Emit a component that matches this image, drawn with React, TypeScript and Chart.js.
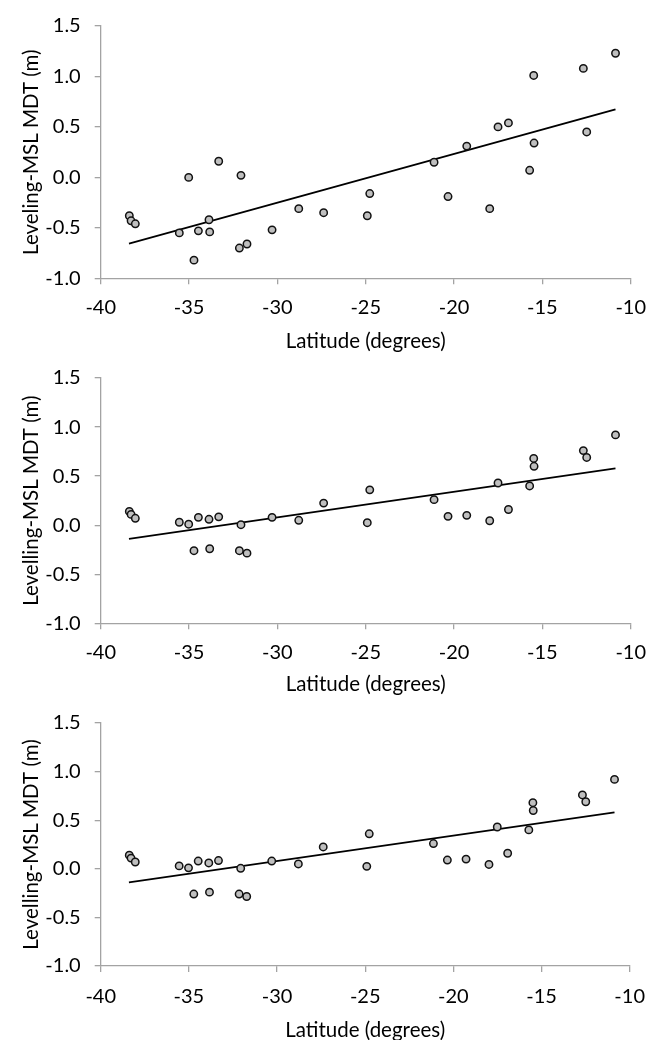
import React, { useEffect, useRef } from "react";
import { Chart, registerables } from "chart.js";

Chart.register(...registerables);

// ---- data ----
const latitudes = [
  -38.38, -38.28, -38.04, -35.55, -35.02, -34.72, -34.47, -33.87, -33.83, -33.32,
  -32.15, -32.06, -31.72, -30.3, -28.79, -27.38, -24.91, -24.77, -21.13, -20.34,
  -19.28, -17.98, -17.51, -16.92, -15.72, -15.49, -15.47, -12.68, -12.49, -10.86,
];

const mdtTop = [
  -0.38, -0.43, -0.46, -0.55, 0.0, -0.82, -0.53, -0.42, -0.54, 0.16,
  -0.7, 0.02, -0.66, -0.52, -0.31, -0.35, -0.38, -0.16, 0.15, -0.19,
  0.31, -0.31, 0.5, 0.54, 0.07, 1.01, 0.34, 1.08, 0.45, 1.23,
];

const mdtMiddle = [
  0.14, 0.11, 0.07, 0.03, 0.01, -0.26, 0.08, 0.06, -0.24, 0.085,
  -0.26, 0.005, -0.285, 0.08, 0.05, 0.225, 0.025, 0.36, 0.26, 0.09,
  0.1, 0.045, 0.43, 0.16, 0.4, 0.68, 0.6, 0.76, 0.69, 0.92,
];

const mdtBottom = [
  0.14, 0.11, 0.07, 0.03, 0.01, -0.26, 0.08, 0.06, -0.24, 0.085,
  -0.26, 0.005, -0.285, 0.08, 0.05, 0.225, 0.025, 0.36, 0.26, 0.09,
  0.1, 0.045, 0.43, 0.16, 0.4, 0.68, 0.6, 0.76, 0.69, 0.92,
];

const trendLatitudes = [-38.4, -10.86];
const trendTop = [-0.656, 0.675];
const trendMiddle = [-0.14, 0.58];
const trendBottom = [-0.14, 0.58];

const xTickValues = [-40, -35, -30, -25, -20, -15, -10];
const yTickValues = [-1.0, -0.5, 0.0, 0.5, 1.0, 1.5];

const xTitle = "Latitude (degrees)";
const yTitles = ["Leveling-MSL MDT (m)", "Levelling-MSL MDT (m)", "Levelling-MSL MDT (m)"];

// ---- layout (page pixels) ----
const PAGE_W = 658;
const PLOT_LEFT = 100.7;
const PLOT_RIGHT = 630.7;
const FONT = "Lato";
const TICK_SIZE = 20;
const TITLE_SIZE = 20.5;
const TICK_LEN = 6;
const AXIS_COLOR = "#a3a3a3";

const panels = [
  { top: 0, bottom: 352, plotTop: 21.7, plotBottom: 278.3, xLabelY: 307.5, titleY: 341.5, values: mdtTop, trend: trendTop, yTitle: yTitles[0] },
  { top: 352, bottom: 697, plotTop: 370.7, plotBottom: 623.3, xLabelY: 653, titleY: 684, values: mdtMiddle, trend: trendMiddle, yTitle: yTitles[1] },
  { top: 697, bottom: 1040, plotTop: 714, plotBottom: 966, xLabelY: 997, titleY: 1030, values: mdtBottom, trend: trendBottom, yTitle: yTitles[2] },
];

type Panel = (typeof panels)[number];

function ScatterPanel({ p }: { p: Panel }) {
  const ref = useRef<HTMLCanvasElement | null>(null);
  const height = p.bottom - p.top;

  useEffect(() => {
    if (!ref.current) return;
    const tickLH = TICK_SIZE * 1.2;
    const xScaleHeight = p.bottom - p.plotBottom;
    const xTickPad = p.xLabelY - p.plotBottom - TICK_LEN - tickLH / 2;
    const titleLH = TITLE_SIZE;
    const xTitlePadBottom = p.bottom - p.titleY - titleLH / 2;

    const chart = new Chart(ref.current, {
      type: "scatter",
      data: {
        datasets: [
          {
            label: "points",
            data: latitudes.map((x, i) => ({ x, y: p.values[i] })),
            backgroundColor: "#bfbfbf",
            borderColor: "#111111",
            borderWidth: 1.5,
            pointRadius: 3.7,
            pointHoverRadius: 3.7,
            order: 1,
          },
          {
            label: "trend",
            data: trendLatitudes.map((x, i) => ({ x, y: p.trend[i] })),
            showLine: true,
            borderColor: "#000000",
            borderWidth: 1.8,
            pointRadius: 0,
            fill: false,
            order: 2,
          },
        ],
      },
      options: {
        responsive: false,
        animation: false,
        devicePixelRatio: 1,
        layout: {
          padding: { top: p.plotTop - p.top, right: PAGE_W - PLOT_RIGHT, bottom: 0, left: 0 },
        },
        plugins: { legend: { display: false }, tooltip: { enabled: false } },
        scales: {
          x: {
            type: "linear",
            min: -40,
            max: -10,
            afterBuildTicks: (s: any) => {
              s.ticks = xTickValues.map((v) => ({ value: v }));
            },
            afterFit: (s: any) => {
              s.height = xScaleHeight;
            },
            ticks: {
              color: "#000",
              font: { family: FONT, size: TICK_SIZE },
              padding: xTickPad,
              maxRotation: 0,
              autoSkip: false,
              callback: (v: any) => String(v),
            },
            grid: {
              display: true,
              drawOnChartArea: false,
              drawTicks: true,
              tickLength: TICK_LEN,
              color: AXIS_COLOR,
              lineWidth: 1.3,
            },
            border: { display: true, color: AXIS_COLOR, width: 1.3 },
            title: {
              display: true,
              text: xTitle,
              color: "#000",
              font: { family: FONT, size: TITLE_SIZE, lineHeight: 1 },
              padding: { top: 0, bottom: xTitlePadBottom },
            },
          },
          y: {
            type: "linear",
            min: -1,
            max: 1.5,
            afterBuildTicks: (s: any) => {
              s.ticks = yTickValues.map((v) => ({ value: v }));
            },
            afterFit: (s: any) => {
              s.width = PLOT_LEFT;
            },
            ticks: {
              color: "#000",
              font: { family: FONT, size: TICK_SIZE },
              padding: 14,
              autoSkip: false,
              callback: (v: any) => Number(v).toFixed(1),
            },
            grid: {
              display: true,
              drawOnChartArea: false,
              drawTicks: true,
              tickLength: TICK_LEN,
              color: AXIS_COLOR,
              lineWidth: 1.3,
            },
            border: { display: true, color: AXIS_COLOR, width: 1.3 },
            title: {
              display: true,
              text: p.yTitle,
              color: "#000",
              font: { family: FONT, size: TITLE_SIZE, lineHeight: 1 },
              padding: { top: 21, bottom: 0 },
            },
          },
        },
      },
    } as any);
    return () => chart.destroy();
  }, []);

  return (
    <canvas
      ref={ref}
      width={PAGE_W}
      height={height}
      style={{ position: "absolute", left: 0, top: p.top, width: PAGE_W, height }}
    />
  );
}

export default function App() {
  return (
    <div
      style={{
        position: "absolute",
        left: 0,
        top: 0,
        width: PAGE_W,
        height: 1040,
        overflow: "hidden",
        background: "#ffffff",
      }}
    >
      {panels.map((p, i) => (
        <ScatterPanel key={i} p={p} />
      ))}
    </div>
  );
}
